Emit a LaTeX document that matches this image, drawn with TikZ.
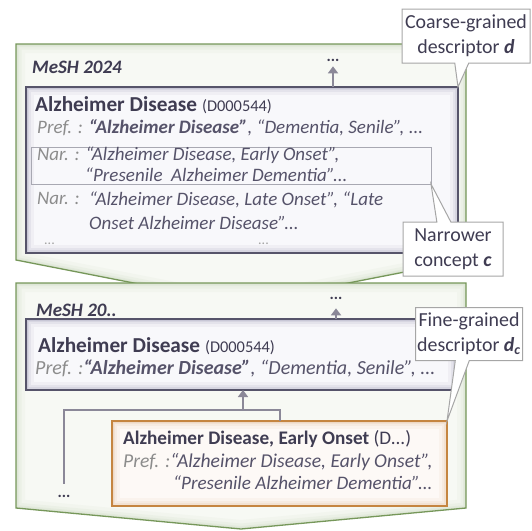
\documentclass[tikz,border=0pt]{standalone}
\usepackage{fontspec}
\setmainfont{Carlito}
\usetikzlibrary{shapes.callouts,arrows.meta,calc}
\definecolor{txt}{HTML}{3F3C52}
\definecolor{lbl}{HTML}{8C8C8C}
\definecolor{itx}{HTML}{56536A}
\definecolor{grn}{HTML}{76975A}
\definecolor{grnfill}{HTML}{F7F9F4}
\definecolor{grnglow}{HTML}{CFDCC3}
\definecolor{gbord}{HTML}{56546A}
\definecolor{gfill}{HTML}{F8F8FB}
\definecolor{gglow}{HTML}{AAA8C0}
\definecolor{obord}{HTML}{C58540}
\definecolor{ofill}{HTML}{FDF9F6}
\definecolor{oglow}{HTML}{E6C3A5}
\definecolor{arrc}{HTML}{8B8898}
\definecolor{cbord}{HTML}{A6A6A6}
\definecolor{narb}{HTML}{A8A8B2}
\newcommand\fs[1]{\fontsize{#1}{#1}\selectfont}
\tikzset{
  glow/.style={path picture={\foreach \w/\o in {16/0.10,10/0.16,6/0.22,3/0.32}{\draw[line width=\w pt,#1,opacity=\o] (path picture bounding box.north west) rectangle (path picture bounding box.south east);}}},
  gbox/.style={draw=gbord, line width=1.6pt, fill=gfill, glow=gglow, inner sep=0pt, outer sep=0pt, anchor=north west},
  obox/.style={draw=obord, line width=1.4pt, fill=ofill, glow=oglow, inner sep=0pt, outer sep=0pt, anchor=north west},
  narbox/.style={draw=narb, line width=0.9pt, inner sep=0pt, outer sep=0pt, anchor=north west},
  tl/.style={anchor=base west, inner sep=0pt, text=txt},
  il/.style={anchor=base west, inner sep=0pt, text=itx, font=\fs{19}\itshape},
  dotsn/.style={anchor=base, inner sep=1pt, text=txt, font=\fs{16}\bfseries},
  ldots/.style={anchor=base west, inner sep=0pt, text=lbl!80, font=\fs{14}},
  arrow/.style={draw=arrc, line width=2.8pt, -{Triangle[width=10pt,length=7pt]}},
  tree/.style={draw=arrc, line width=2.8pt},
  callout/.style={rectangle callout, draw=cbord, line width=1pt, fill=white, text=txt, align=center, font=\fontsize{19.9}{25}\selectfont, inner sep=0pt, callout pointer width=14pt},
  mesh/.style={anchor=base west, inner sep=0pt, text=txt, font=\fs{19}\bfseries\itshape},
}
\begin{document}
\begin{tikzpicture}[x=1pt,y=-1pt]
\useasboundingbox (0,0) rectangle (532,530);
% version frames (pentagon arrows)
\def\pentA{(16,44) -- (466,44) -- (466,260) -- (241,304) -- (16,260) -- cycle}
\def\pentB{(16,283) -- (466,283) -- (466,508) -- (241,529) -- (16,508) -- cycle}
\fill[grnfill] \pentA;
\begin{scope}\clip \pentA;
  \foreach \w/\o in {18/0.12,11/0.18,6/0.25,3/0.35}{\draw[line width=\w pt,grnglow,opacity=\o] \pentA;}
\end{scope}
\draw[grn, line width=1.3pt, line join=miter] \pentA;
\fill[grnfill] \pentB;
\begin{scope}\clip \pentB;
  \foreach \w/\o in {18/0.12,11/0.18,6/0.25,3/0.35}{\draw[line width=\w pt,grnglow,opacity=\o] \pentB;}
\end{scope}
\draw[grn, line width=1.3pt, line join=miter] \pentB;

\node[mesh] (mesh1) at (32,73) {MeSH 2024};
\node[mesh] (mesh2) at (36,316) {MeSH 20..};

% upper descriptor
\node[gbox, minimum width=432pt, minimum height=166pt] (desc1) at (26,87) {};
\node[narbox, minimum width=400pt, minimum height=37pt] (narc) at (31,147) {};
\node[tl] (d1t) at (35,111) {\fs{21.3}\bfseries Alzheimer Disease \fs{16.4}\mdseries (D000544)};
\node[il] (d1p) at (37,133) {{\color{lbl}Pref. :} \textbf{“Alzheimer Disease”}, “Dementia, Senile”, ...};
\node[il] (d1n1) at (37,160) {{\color{lbl}Nar. :} “Alzheimer Disease, Early Onset”,};
\node[il] (d1n1b) at (85,181) {“Presenile\ \ Alzheimer Dementia”...};
\node[il] (d1n2l) at (37,204) {\color{lbl}Nar. :};
\node[il] (d1n2) at (89,205) {“Alzheimer Disease, Late Onset”, “Late};
\node[il] (d1n2b) at (89,229) {Onset Alzheimer Disease”...};
\node[ldots] (d1x1) at (44,244) {...};
\node[ldots] (d1x2) at (258,244) {...};
\node[dotsn] (up1) at (333,61) {...};
\draw[arrow, shorten >=4pt] (desc1.north -| up1) -- (up1.south);

% lower descriptor
\node[gbox, minimum width=430pt, minimum height=71pt] (desc2) at (26,319) {};
\node[tl] (d2t) at (38,352) {\fs{21.3}\bfseries Alzheimer Disease \fs{16.4}\mdseries (D000544)};
\node[il, font=\fs{20}\itshape] (d2p) at (35,374) {{\color{lbl}Pref. :}\textbf{“Alzheimer Disease”}, “Dementia, Senile”, ...};
\node[dotsn] (up2) at (336,299) {...};
\draw[arrow, shorten >=8pt] (desc2.north -| up2) -- (up2.south);

% fine-grained descriptor
\node[obox, minimum width=335pt, minimum height=85pt] (fine) at (112,421) {};
\node[tl] (ft) at (123,444) {\fs{19.2}\bfseries Alzheimer Disease, Early Onset \mdseries(D...)};
\node[il, font=\fs{19.6}\itshape] (fp) at (123,467) {{\color{lbl}Pref. :}“Alzheimer Disease, Early Onset”,};
\node[il, font=\fs{19.1}\itshape] (fp2) at (173,489) {“Presenile Alzheimer Dementia”...};

% tree connectors
\node[dotsn] (ld) at (64,497) {...};
\coordinate (branch) at (243,410);
\coordinate (ftop) at ($(fine.north west)+(168,0)$);
\draw[tree, shorten <=10pt] (ld.north) |- (branch) -| (ftop);
\draw[arrow] (branch) -- (desc2.south -| branch);

% callouts
\node[callout, minimum width=128pt, minimum height=54pt, callout absolute pointer={(desc1.north east)}] (cg) at (466,36) {Coarse-grained\\descriptor \textbf{\textit{d}}};
\node[callout, minimum width=100pt, minimum height=54pt, callout absolute pointer={(narc.south east)}] (nc) at (453,249) {Narrower\\concept \textbf{\textit{c}}};
\node[callout, minimum width=107pt, minimum height=53pt, callout absolute pointer={(fine.north east)}] (fg) at (469,334) {Fine-grained\\descriptor \textbf{\textit{d}\textsubscript{\textit{c}}}};
\end{tikzpicture}
\end{document}
